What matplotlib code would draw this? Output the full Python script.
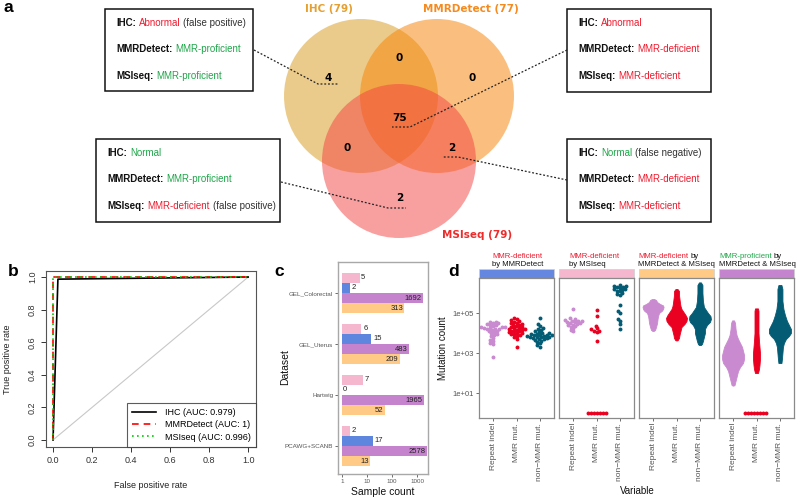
import numpy as np
import matplotlib
matplotlib.use("Agg")
import matplotlib.pyplot as plt
from matplotlib.patches import Circle, Rectangle

plt.rcParams['font.family'] = ['Liberation Sans', 'DejaVu Sans']

RED = '#EE1B2E'
GREEN = '#1FA64A'

# ---------------- panel a: venn
venn_names = ['IHC', 'MMRDetect', 'MSIseq']
venn_totals = [79, 77, 79]
# regions: IHC only, MMRDetect only, IHC&MMRDetect, all three, IHC&MSIseq, MMRDetect&MSIseq, MSIseq only
venn_counts = [4, 0, 0, 75, 0, 2, 2]

# box text: (tool, call, call colour, note)
box_texts = [
    [('IHC:', 'Abnormal', RED, '(false positive)'),
     ('MMRDetect:', 'MMR-proficient', GREEN, ''),
     ('MSIseq:', 'MMR-proficient', GREEN, '')],
    [('IHC:', 'Normal', GREEN, ''),
     ('MMRDetect:', 'MMR-proficient', GREEN, ''),
     ('MSIseq:', 'MMR-deficient', RED, '(false positive)')],
    [('IHC:', 'Abnormal', RED, ''),
     ('MMRDetect:', 'MMR-deficient', RED, ''),
     ('MSIseq:', 'MMR-deficient', RED, '')],
    [('IHC:', 'Normal', GREEN, '(false negative)'),
     ('MMRDetect:', 'MMR-deficient', RED, ''),
     ('MSIseq:', 'MMR-deficient', RED, '')],
]

# ---------------- panel b: ROC
roc_labels = ['IHC (AUC: 0.979)', 'MMRDetect (AUC: 1)', 'MSIseq (AUC: 0.996)']
ihc_fpr = [0, 0.025, 1]
ihc_tpr = [0, 0.987, 1]
mmrdetect_fpr = [0, 0, 1]
mmrdetect_tpr = [0, 1, 1]
msiseq_fpr = [0, 0, 1]
msiseq_tpr = [0, 1, 1]

# ---------------- panel c: sample counts
datasets = ['GEL_Colorectal', 'GEL_Uterus', 'Hartwig', 'PCAWG+SCANB']
n_def_msiseq = [5, 6, 7, 2]
n_def_mmrdetect = [2, 15, 0, 17]
n_prof_both = [1692, 483, 1965, 2578]
n_def_both = [313, 209, 52, 13]

# ---------------- panel d: mutation counts
variables = ['Repeat indel', 'MMR mut.', 'non\u2212MMR mut.']
# MMR-deficient by MMRDetect
mmrdetect_repeat = [37000, 35500, 31600, 31600, 28000, 25000, 25000, 22000, 20000, 20000,
                    19000, 18000, 18000, 16000, 16000, 15000, 14000, 12600, 12600, 11000,
                    10000, 9000, 8000, 7000, 5600, 4500, 4000, 3200, 2800, 660]
mmrdetect_mmr = [54000, 48000, 45000, 40000, 36000, 33000, 30000, 28000, 26000, 24000,
                 22000, 20000, 19000, 18000, 17000, 16000, 15000, 14000, 14000, 13000,
                 12000, 12000, 11000, 10000, 10000, 9000, 8500, 8000, 7000, 6000, 5000, 1900]
mmrdetect_nonmmr = [54000, 28000, 22000, 18000, 15000, 14000, 12000, 11000, 10000, 9500,
                    9000, 8500, 8000, 8000, 7500, 7500, 7000, 7000, 6500, 6500, 6000, 6000,
                    5500, 5500, 5000, 5000, 4500, 4000, 3500, 3000, 2500, 2000]
# MMR-deficient by MSIseq
msiseq_repeat = [150000, 55000, 50000, 45000, 42000, 40000, 38000, 36000, 34000, 32000,
                 30000, 28000, 26000, 24000, 22000, 20000, 17000, 14000, 12000]
msiseq_mmr = [135000, 74000, 23000, 17000, 15000, 13000, 12000, 11000, 4000,
              0, 0, 0, 0, 0, 0, 0]
msiseq_nonmmr = [2500000, 2300000, 2200000, 2000000, 1900000, 1800000, 1600000, 1500000,
                 1400000, 1300000, 1200000, 1000000, 900000, 800000, 250000, 125000, 95000,
                 52000, 40000, 27000, 15000]
# dense groups read as outlines: log10 count and half width (px)
defboth_repeat_log = [5.7, 5.65, 5.55, 5.45, 5.38, 5.3, 5.2, 5.12, 5.0, 4.85, 4.7, 4.5, 4.3, 4.15, 4.1]
defboth_repeat_w = [1, 3, 4, 7, 10, 10.5, 10, 9, 6, 5, 4.5, 4, 3, 2, 0.5]
defboth_mmr_log = [6.2, 6.1, 5.9, 5.7, 5.5, 5.35, 5.2, 5.05, 4.9, 4.75, 4.6, 4.45, 4.3, 4.1, 3.9, 3.75, 3.63]
defboth_mmr_w = [1, 2.5, 2.5, 3, 3.5, 4, 5, 7, 9, 10.5, 10, 8, 5, 4, 3, 2.5, 1]
defboth_nonmmr_log = [6.53, 6.4, 6.0, 5.6, 5.3, 5.15, 5.0, 4.85, 4.7, 4.55, 4.4, 4.2, 4.0, 3.8, 3.6, 3.45, 3.4]
defboth_nonmmr_w = [1, 2.5, 2.5, 3, 4, 6, 8, 10.5, 11, 10, 7, 5, 5, 4, 3, 2, 1]
profboth_repeat_log = [4.63, 4.5, 4.2, 3.9, 3.7, 3.5, 3.3, 3.1, 2.9, 2.7, 2.5, 2.3, 2.1, 1.9, 1.6, 1.4, 1.37]
profboth_repeat_w = [1, 2, 2.5, 3.5, 5, 7, 9, 10, 11, 11, 10, 7, 5, 4, 2.5, 1.5, 0.5]
profboth_mmr_log = [5.23, 5.1, 4.5, 4.0, 3.6, 3.3, 3.0, 2.7, 2.4, 2.2, 2.0]
profboth_mmr_w = [1.5, 2, 2, 2, 2.5, 3, 3.5, 3.5, 3, 2.5, 1.5]
profboth_mmr_zeros = [0, 0, 0, 0, 0, 0, 0, 0]
profboth_nonmmr_log = [6.4, 6.2, 5.6, 5.2, 4.9, 4.6, 4.4, 4.2, 4.0, 3.85, 3.7, 3.5, 3.3, 3.0, 2.7, 2.5]
profboth_nonmmr_w = [1.5, 2.5, 2.5, 3.5, 5, 7, 9, 11, 11, 9, 6, 4, 3, 2.5, 2, 1.5]

facet_titles = [('MMR-deficient', RED, '', 'by MMRDetect'),
                ('MMR-deficient', RED, '', 'by MSIseq'),
                ('MMR-deficient', RED, 'by', 'MMRDetect & MSIseq'),
                ('MMR-proficient', GREEN, 'by', 'MMRDetect & MSIseq')]
facet_colors = ['#6587E0', '#F5B7CD', '#FFC986', '#C585CE']
var_colors = ['#C98AD0', '#EA0020', '#035B74']

W, H = 800, 500
fig = plt.figure(figsize=(8, 5), dpi=100)


def px_axes(l, t, r, b):
    return fig.add_axes([l / W, 1 - b / H, (r - l) / W, (b - t) / H])


ax_a = fig.add_axes([0, 0, 1, 1])
ax_a.set_xlim(0, W)
ax_a.set_ylim(H, 0)
ax_a.axis('off')


def chain(ax, x, y, parts, size, gap=2.2):
    # parts: list of (text, colour, weight); drawn one after another
    t = ax.text(x, y, parts[0][0], color=parts[0][1], fontweight=parts[0][2],
                fontsize=size, va='center', ha='left')
    for txt, col, wt in parts[1:]:
        if not txt:
            continue
        t = ax.annotate(txt, xy=(1, 0), xycoords=t, xytext=(gap, 0),
                        textcoords='offset points', va='bottom', ha='left',
                        color=col, fontweight=wt, fontsize=size)
    return t


# venn circles
circle_pos = [(361, 96, 77), (437, 96, 77), (399, 161, 77)]
circle_cols = ['#D99919', '#F78100', '#F34141']
for (cx, cy, r), col in zip(circle_pos, circle_cols):
    ax_a.add_patch(Circle((cx, cy), r, facecolor=col, alpha=0.5, lw=0))
label_pos = [(329, 9), (471, 9), (477, 235)]
label_cols = ['#E5A030', '#F58A1F', '#EE2C2C']
for name, tot, (lx, ly), col in zip(venn_names, venn_totals, label_pos, label_cols):
    ax_a.text(lx, ly, f'{name} ({tot})', color=col, fontsize=7.5, fontweight='bold',
              family='DejaVu Sans', ha='center', va='center')
count_pos = [(328, 78), (472, 78), (399, 58), (400, 118), (347, 148), (452, 148), (400, 198)]
for n, (x, y) in zip(venn_counts, count_pos):
    ax_a.text(x, y, str(n), fontsize=7.5, fontweight='bold', family='DejaVu Sans',
              ha='center', va='center')

box_rects = [(105, 9, 253, 91), (96, 139, 280, 222), (567, 9, 711, 92), (567, 139, 711, 222)]
for (l, t, r, b), lines in zip(box_rects, box_texts):
    ax_a.add_patch(Rectangle((l, t), r - l, b - t, facecolor='white', edgecolor='#111', lw=1.1))
    for k, (tool, call, col, note) in enumerate(lines):
        chain(ax_a, l + 11, t + 14 + k * 26.5,
              [(tool, '#111', 'bold'), (call, col, 'normal'), (note, '#333', 'normal')], 7)

connectors = [[(254, 50), (318, 84), (338, 84)],
              [(281, 182), (388, 208), (406, 208)],
              [(567, 50), (410, 127), (392, 127)],
              [(567, 180), (458, 157), (443, 157)]]
for pts in connectors:
    xs, ys = zip(*pts)
    ax_a.plot(xs, ys, color='#222', lw=0.9, ls=(0, (1.5, 1.5)))

for lab, (x, y) in zip('abcd', [(8, 8), (13, 271), (279, 272), (454, 272)]):
    ax_a.text(x, y, lab, fontsize=12.5, fontweight='bold', ha='center', va='center')

# ---------------- panel b
ax_b = px_axes(46, 271, 256, 447)
ax_b.plot([0, 1], [0, 1], color='#C8C8C8', lw=0.8)
ax_b.plot(ihc_fpr, ihc_tpr, color='black', lw=1.2, label=roc_labels[0])
ax_b.plot(mmrdetect_fpr, mmrdetect_tpr, color='#FF0000', lw=1.2, ls=(0, (4, 3)), label=roc_labels[1])
ax_b.plot(msiseq_fpr, msiseq_tpr, color='#00CD00', lw=1.2, ls=(0, (1, 2)), label=roc_labels[2])
ax_b.set_xlim(-0.036, 1.04)
ax_b.set_ylim(-0.043, 1.037)
ticks = np.arange(0, 1.01, 0.2)
ax_b.set_xticks(ticks)
ax_b.set_xticklabels([f'{v:.1f}' for v in ticks])
ax_b.set_yticks(ticks)
ax_b.set_yticklabels([f'{v:.1f}' for v in ticks], rotation=90, va='center')
ax_b.tick_params(length=3.6, width=0.7, labelsize=6.5, colors='#333', pad=3)
for s in ax_b.spines.values():
    s.set_color('#555')
    s.set_linewidth(0.8)
leg = ax_b.legend(loc='lower right', fontsize=6.5, fancybox=False, edgecolor='#333',
                  borderaxespad=0, handlelength=2.6, labelspacing=0.35, borderpad=0.6,
                  handletextpad=1.0)
leg.get_frame().set_linewidth(0.8)
ax_a.text(151, 486, 'False positive rate', fontsize=6.5, ha='center', va='center', color='#222')
ax_a.text(8, 359, 'True positive rate', fontsize=6.5, ha='center', va='center', rotation=90, color='#222')

# ---------------- panel c
ax_c = px_axes(338, 262, 428, 474)
ax_c.set_xscale('log')
ax_c.set_xlim(0.69, 2750)
ax_c.set_ylim(3.55, -0.61)
bar_h = 0.2
series = [(n_def_msiseq, '#F5B7CD', False), (n_def_mmrdetect, '#5E86DF', False),
          (n_prof_both, '#C483CC', True), (n_def_both, '#FFC986', True)]
for k, (vals, col, inside) in enumerate(series):
    ys = np.arange(len(datasets)) + (k - 1.5) * bar_h
    for y, v in zip(ys, vals):
        if v > 1:
            ax_c.barh(y, v - 1, left=1, height=bar_h, color=col, lw=0)
        if inside:
            ax_c.annotate(str(v), (v, y), xytext=(-1, 0), textcoords='offset points',
                          ha='right', va='center', fontsize=5.5, color='#222')
        else:
            ax_c.annotate(str(v), (max(v, 1), y), xytext=(1.2 if v > 0 else 0.4, 0),
                          textcoords='offset points', ha='left', va='center',
                          fontsize=5.5, color='#222')
ax_c.set_xticks([1, 10, 100, 1000])
ax_c.set_xticklabels(['1', '10', '100', '1000'])
ax_c.minorticks_off()
ax_c.set_yticks(range(len(datasets)))
ax_c.set_yticklabels(datasets)
ax_c.tick_params(length=2, width=0.6, labelsize=4.5, colors='#555', pad=1.5)
for s in ax_c.spines.values():
    s.set_color('#A8A8A8')
    s.set_linewidth(1.0)
ax_a.text(383, 492, 'Sample count', fontsize=7.5, ha='center', va='center', color='#111')
ax_a.text(285, 367, 'Dataset', fontsize=7.5, ha='center', va='center', rotation=90, color='#111')

# ---------------- panel d
def swarm_offsets(vals, d=2.8, ppd=20.0):
    ys = np.log10(np.maximum(np.asarray(vals, float), 1)) * ppd
    offs = np.zeros(len(ys))
    cands = sorted(np.arange(-40, 40.01, 0.5), key=abs)
    done = []
    for i in np.argsort(ys):
        for c in cands:
            if all((c - offs[j]) ** 2 + (ys[i] - ys[j]) ** 2 >= d * d for j in done):
                offs[i] = c
                break
        done.append(i)
    return offs


px_per_unit = 75 / 3.2
swarm_data = [[mmrdetect_repeat, mmrdetect_mmr, mmrdetect_nonmmr],
              [msiseq_repeat, msiseq_mmr, msiseq_nonmmr],
              [None, None, None],
              [None, profboth_mmr_zeros, None]]
profile_data = [[None, None, None],
                [None, None, None],
                [(defboth_repeat_log, defboth_repeat_w), (defboth_mmr_log, defboth_mmr_w),
                 (defboth_nonmmr_log, defboth_nonmmr_w)],
                [(profboth_repeat_log, profboth_repeat_w), (profboth_mmr_log, profboth_mmr_w),
                 (profboth_nonmmr_log, profboth_nonmmr_w)]]
facet_left = [479, 559, 639, 719]
for i in range(4):
    ax = px_axes(facet_left[i], 278, facet_left[i] + 75, 418)
    ax.set_yscale('log')
    ax.set_ylim(10 ** -0.25, 10 ** 6.75)
    ax.set_xlim(0.4, 3.6)
    for j in range(3):
        col = var_colors[j]
        prof = profile_data[i][j]
        if prof is not None:
            lg, w = np.asarray(prof[0]), np.asarray(prof[1]) / px_per_unit
            ax.fill_betweenx(10 ** lg, j + 1 - w, j + 1 + w, color=col, lw=0.6, edgecolor=col)
        vals = swarm_data[i][j]
        if vals is not None:
            offs = swarm_offsets(vals) / px_per_unit
            ax.scatter(j + 1 + offs, np.maximum(vals, 1), s=8, color=col, lw=0)
    ax.set_xticks([1, 2, 3])
    ax.set_xticklabels(variables, rotation=90, fontsize=6, color='#4D4D4D')
    ax.set_yticks([10, 1e3, 1e5])
    ax.minorticks_off()
    if i == 0:
        ax.set_yticklabels(['1e+01', '1e+03', '1e+05'], fontsize=5.5, color='#4D4D4D')
    else:
        ax.tick_params(axis='y', left=False, labelleft=False)
    ax.tick_params(length=2, width=0.6, colors='#555', pad=1.5)
    for s in ax.spines.values():
        s.set_color('#8A8A8A')
        s.set_linewidth(0.9)
    l = facet_left[i]
    ax_a.add_patch(Rectangle((l, 269), 75, 9, facecolor=facet_colors[i], edgecolor='#CFCFCF', lw=0.5))
    word, wcol, rest, line2 = facet_titles[i]
    tx = [492, 569, 638, 719][i]
    chain(ax_a, tx, 256, [(word, wcol, 'normal'), (rest, '#111', 'normal')], 5.6, gap=1.6)
    ax_a.text(tx, 264, line2, fontsize=5.6, ha='left', va='center', color='#111')

ax_a.text(443, 348, 'Mutation count', fontsize=7, ha='center', va='center', rotation=90, color='#111')
ax_a.text(637, 491, 'Variable', fontsize=7, ha='center', va='center', color='#111')

fig.savefig('out.png', dpi=100)
